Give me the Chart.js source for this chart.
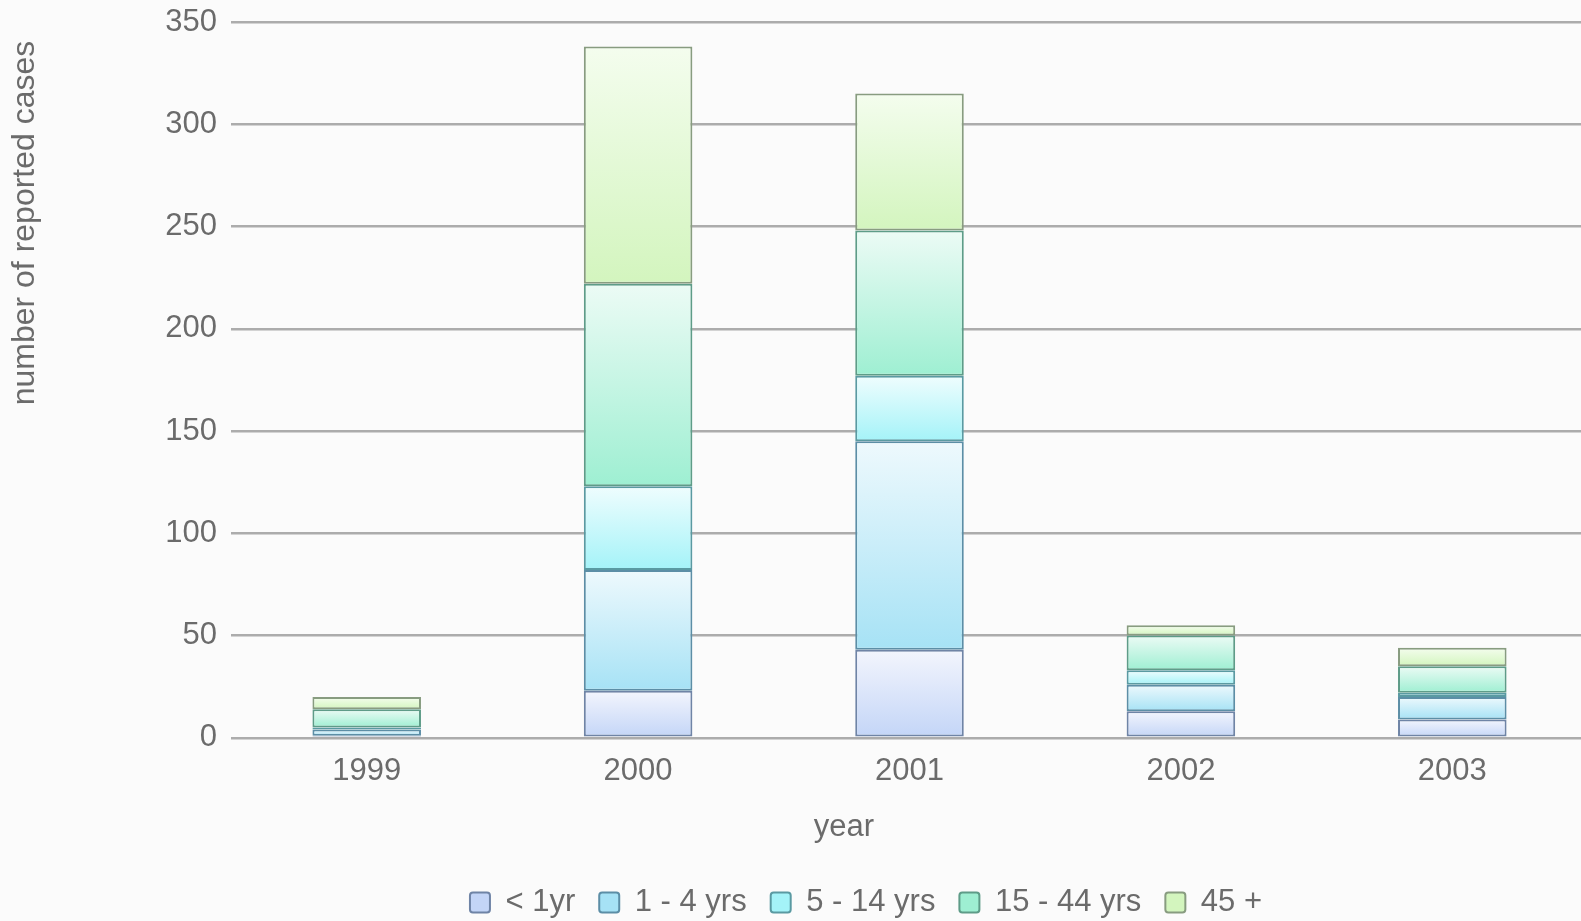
<!DOCTYPE html>
<html>
<head>
<meta charset="utf-8">
<title>Reported cases by age group</title>
<script src="https://cdn.jsdelivr.net/npm/chart.js@4/dist/chart.umd.min.js"></script>
<style>
  html, body { margin: 0; padding: 0; overflow: hidden; background: #fbfbfb; }
  #wrap { position: absolute; left: 0; top: 0; width: 1588px; height: 921px; }
</style>
</head>
<body>
<div id="wrap"><canvas id="chart"></canvas></div>
<script>
// Years on the x axis
const years = ['1999', '2000', '2001', '2002', '2003'];

// Reported cases per age group, stacked bottom to top
const under1yr  = [1, 23, 43, 13, 9];
const age1to4   = [3, 59, 102, 13, 11];
const age5to14  = [1, 41, 32, 7, 2];
const age15to44 = [9, 99, 71, 17, 13];
const age45plus = [6, 116, 67, 5, 9];

const seriesNames = ['< 1yr', '1 - 4 yrs', '5 - 14 yrs', '15 - 44 yrs', '45 +'];
const seriesValues = [under1yr, age1to4, age5to14, age15to44, age45plus];

// y axis ticks
const yTicks = [0, 50, 100, 150, 200, 250, 300, 350];

// axis titles
const xTitle = 'year';
const yTitle = 'number of reported cases';

// light top colour, saturated bottom colour, outline
const palette = [
  { top: '#f3f5fd', bottom: '#c3d5f7', line: '#6f84a6' },
  { top: '#eef9fd', bottom: '#a6e2f5', line: '#5c8ea6' },
  { top: '#effdfe', bottom: '#a4f3f8', line: '#5a9aa2' },
  { top: '#ecfbf5', bottom: '#9eefd2', line: '#5e9c88' },
  { top: '#f4fdee', bottom: '#d3f5be', line: '#889c80' }
];

function segmentFill(seriesIndex) {
  return function (ctx) {
    const c = palette[seriesIndex];
    if (ctx.type !== 'data') return c.bottom;
    const chart = ctx.chart;
    const y = chart.scales.y;
    if (!chart.chartArea || !y) return c.bottom;
    let start = 0;
    for (let s = 0; s < seriesIndex; s++) start += seriesValues[s][ctx.dataIndex];
    const end = start + seriesValues[seriesIndex][ctx.dataIndex];
    const pTop = y.getPixelForValue(end);
    const pBottom = y.getPixelForValue(start);
    if (!isFinite(pTop) || !isFinite(pBottom) || pTop === pBottom) return c.bottom;
    const g = chart.ctx.createLinearGradient(0, pTop, 0, pBottom);
    g.addColorStop(0, c.top);
    g.addColorStop(1, c.bottom);
    return g;
  };
}

const datasets = seriesNames.map((name, i) => ({
  label: name,
  data: seriesValues[i],
  backgroundColor: segmentFill(i),
  borderColor: palette[i].line,
  borderWidth: 2,
  borderSkipped: false,
  categoryPercentage: 0.8,
  barPercentage: 0.5
}));

const textColor = '#6b6b6b';
const fontFamily = '"Liberation Sans", Arial, sans-serif';
const font = { family: fontFamily, size: 31 };

// nudge the legend row to the right
const legendShift = {
  id: 'legendShift',
  afterLayout(chart) {
    if (chart.legend) {
      chart.legend.left += 72;
      chart.legend.right += 72;
    }
  }
};

// axis titles placed relative to the plot area
const axisTitles = {
  id: 'axisTitles',
  afterDraw(chart) {
    const { ctx, chartArea } = chart;
    ctx.save();
    ctx.fillStyle = textColor;
    ctx.textAlign = 'center';
    ctx.textBaseline = 'middle';
    ctx.font = font.size + 'px ' + fontFamily;
    ctx.fillText(xTitle, chartArea.left + 613, chartArea.bottom + 90);
    ctx.font = '32px ' + fontFamily;
    ctx.translate(25, chartArea.top + 201);
    ctx.rotate(-Math.PI / 2);
    ctx.fillText(yTitle, 0, 0);
    ctx.restore();
  }
};

new Chart(document.getElementById('chart'), {
  type: 'bar',
  data: { labels: years, datasets: datasets },
  plugins: [legendShift, axisTitles],
  options: {
    responsive: true,
    maintainAspectRatio: false,
    animation: false,
    layout: { padding: { top: 22, left: 0, right: 0, bottom: -7 } },
    plugins: {
      legend: {
        position: 'bottom',
        labels: {
          color: textColor,
          font: font,
          boxWidth: 20,
          boxHeight: 20,
          padding: 24,
          useBorderRadius: true,
          borderRadius: 3,
          generateLabels(chart) {
            return seriesNames.map((name, i) => ({
              text: name,
              fillStyle: palette[i].bottom,
              strokeStyle: palette[i].line,
              lineWidth: 2,
              fontColor: textColor,
              borderRadius: 3,
              datasetIndex: i,
              hidden: false
            }));
          }
        }
      },
      tooltip: { enabled: false }
    },
    scales: {
      x: {
        stacked: true,
        grid: { display: false, drawTicks: false },
        border: { display: false },
        ticks: { color: textColor, font: font, padding: 15 },
        afterFit(scale) { scale.height += 58; }
      },
      y: {
        stacked: true,
        min: 0,
        max: 350,
        afterBuildTicks(scale) {
          scale.ticks = yTicks.map(v => ({ value: v }));
        },
        afterFit(scale) {
          scale.width = 231;
          scale.paddingTop = 0;
          scale.paddingBottom = 0;
        },
        grid: { color: '#acacac', lineWidth: 2.5, drawTicks: false },
        border: { display: false },
        ticks: { color: textColor, font: font, padding: 14 }
      }
    }
  }
});
</script>
</body>
</html>
